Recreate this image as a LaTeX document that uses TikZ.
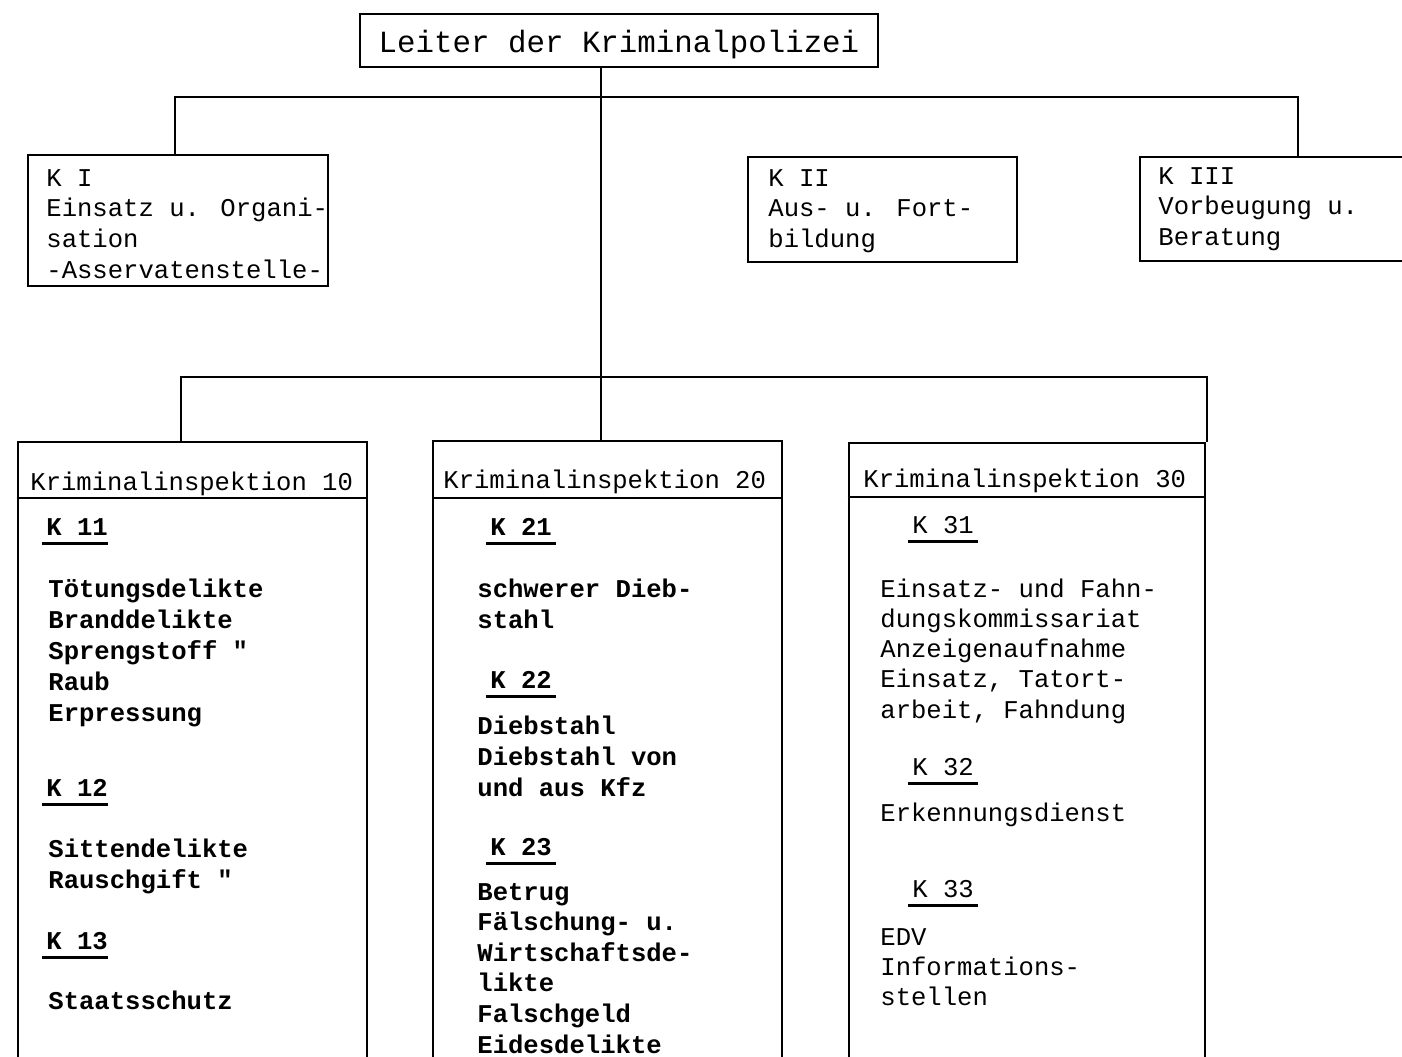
\documentclass[tikz,border=0pt]{standalone}
\usepackage{fontspec}
\setmainfont{Liberation Mono}[Ligatures=TeXOff]
\newcommand{\dq}{\symbol{34}}
\begin{document}
\begin{tikzpicture}[x=0.5pt,y=-0.5pt,
  box/.style={draw, line width=1.4pt, inner sep=0pt, rectangle},
  conn/.style={line width=1.3pt},
  uline/.style={line width=1.5pt},
  txt/.style={anchor=west, inner sep=0pt, yshift=-1.5pt, text height=0.7em, text depth=0.2em, font=\fontsize{12.8}{15}\selectfont},
  btxt/.style={txt, font=\fontsize{12.8}{15}\selectfont\bfseries},
  ttxt/.style={txt, anchor=center, yshift=-1pt, font=\fontsize{15.4}{18}\selectfont}]
\useasboundingbox (0,0) rectangle (1402,1056);
\clip (0,0) rectangle (1402,1056);
% boxes
\node[box, minimum width=259pt, minimum height=26.5pt] (top) at (619,40.5) {};
\node[box, minimum width=150pt, minimum height=65.5pt] (ki) at (178,220.5) {};
\node[box, minimum width=134.5pt, minimum height=52.5pt] (kii) at (882.5,209.5) {};
\node[box, minimum width=140pt, minimum height=52pt] (kiii) at (1280,209) {};
\node[box, minimum width=174.5pt, minimum height=319pt] (k10) at (192.5,761) {};
\node[box, minimum width=174.5pt, minimum height=319.5pt] (k20) at (607.5,760.5) {};
\node[box, minimum width=178pt, minimum height=318.5pt] (k30) at (1027,761.5) {};
% header dividers
\draw[box] (k10.west |- 0,498) -- (k10.east |- 0,498);
\draw[box] (k20.west |- 0,498) -- (k20.east |- 0,498);
\draw[box] (k30.west |- 0,497) -- (k30.east |- 0,497);
% connectors
\coordinate (spine) at (601,0);
\coordinate (a1) at (175,97);
\coordinate (a2) at (1298,97);
\coordinate (b1) at (181,377);
\coordinate (b2) at (1207,377);
\draw[conn] (top.south -| spine) -- (k20.north -| spine);
\draw[conn] (ki.north -| a1) -- (a1) -- (a2) -- (kiii.north -| a2);
\draw[conn] (k10.north -| b1) -- (b1) -- (b2) -- (k30.north -| b2);
% texts
\node[ttxt] (ttop) at (619,42) {Leiter der Kriminalpolizei};
\foreach \t [count=\i] in {K I, Einsatz u. Organi-, sation, -Asservatenstelle-}
  \node[txt] (ki\i) at (46,{178+30.7*(\i-1)}) {\t};
\foreach \t [count=\i] in {K II, Aus- u. Fort-, bildung}
  \node[txt] (kii\i) at (768,{178+30.7*(\i-1)}) {\t};
\foreach \t [count=\i] in {K III, Vorbeugung u., Beratung}
  \node[txt] (kiii\i) at (1158,{176+30.7*(\i-1)}) {\t};
\node[txt] (h10) at (30,482) {Kriminalinspektion 10};
\node[txt] (h20) at (443,480) {Kriminalinspektion 20};
\node[txt] (h30) at (863,479) {Kriminalinspektion 30};
% KI 10
\node[btxt] (k11) at (46,527) {K 11};
\node[btxt] (k12) at (46,788) {K 12};
\node[btxt] (k13) at (46,941) {K 13};
\foreach \n in {k11,k12,k13}
  \draw[uline] ([xshift=-2pt,yshift=-4pt]\n.base west) -- ([yshift=-4pt]\n.base east);
\foreach \t [count=\i] in {Tötungsdelikte, Branddelikte, Sprengstoff \dq, Raub, Erpressung}
  \node[btxt] (a\i) at (48,{589+31.2*(\i-1)}) {\t};
\foreach \t [count=\i] in {Sittendelikte, Rauschgift \dq}
  \node[btxt] (b\i) at (48,{849+31*(\i-1)}) {\t};
\node[btxt] (c1) at (48,1001) {Staatsschutz};
% KI 20
\node[btxt] (k21) at (490,527) {K 21};
\node[btxt] (k22) at (490,680) {K 22};
\node[btxt] (k23) at (490,847) {K 23};
\foreach \n in {k21,k22,k23}
  \draw[uline] ([xshift=-2pt,yshift=-4pt]\n.base west) -- ([xshift=2pt,yshift=-4pt]\n.base east);
\foreach \t [count=\i] in {schwerer Dieb-, stahl}
  \node[btxt] (d\i) at (477,{589+31*(\i-1)}) {\t};
\foreach \t [count=\i] in {Diebstahl, Diebstahl von, und aus Kfz}
  \node[btxt] (e\i) at (477,{726+31*(\i-1)}) {\t};
\foreach \t [count=\i] in {Betrug, Fälschung- u., Wirtschaftsde-, likte, Falschgeld, Eidesdelikte}
  \node[btxt] (f\i) at (477,{892+30.6*(\i-1)}) {\t};
% KI 30
\node[txt] (k31) at (912,525) {K 31};
\node[txt] (k32) at (912,767) {K 32};
\node[txt] (k33) at (912,889) {K 33};
\foreach \n in {k31,k32,k33}
  \draw[uline] ([xshift=-2pt,yshift=-4pt]\n.base west) -- ([xshift=2pt,yshift=-4pt]\n.base east);
\foreach \t [count=\i] in {Einsatz- und Fahn-, dungskommissariat, Anzeigenaufnahme, {Einsatz, Tatort-}, {arbeit, Fahndung}}
  \node[txt] (g\i) at (880,{589+30.3*(\i-1)}) {\t};
\node[txt] (h1) at (880,813) {Erkennungsdienst};
\foreach \t [count=\i] in {EDV, Informations-, stellen}
  \node[txt] (j\i) at (880,{937+30*(\i-1)}) {\t};
\end{tikzpicture}
\end{document}
